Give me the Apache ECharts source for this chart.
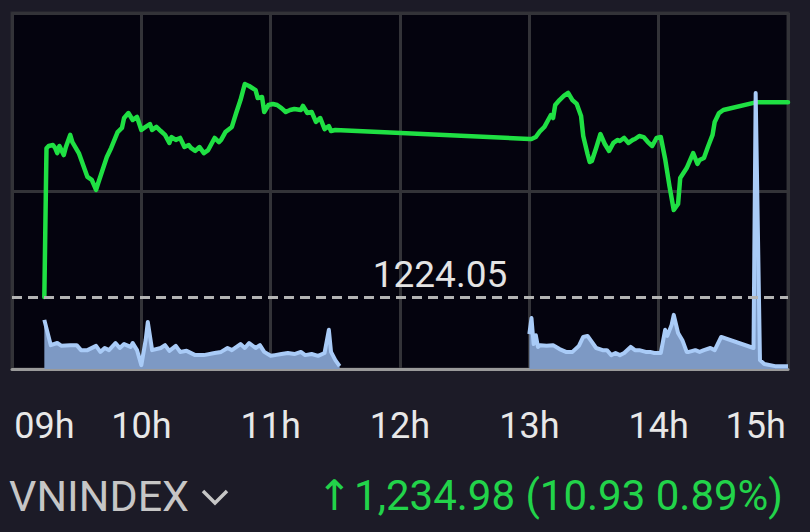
<!DOCTYPE html>
<html>
<head>
<meta charset="utf-8">
<script src="https://cdn.jsdelivr.net/npm/echarts@6/dist/echarts.min.js"></script>
<style>
html,body{margin:0;padding:0;background:#1c1b27;}
#c{width:810px;height:532px;}
</style>
</head>
<body>
<div id="c"></div>
<script>
// ---------- data ----------
var refPrice = 1224.05;
var tickTimes = ["09:15","10:00","11:00","12:00","13:00","14:00","14:45"];
var tickLabels = ["09h","10h","11h","12h","13h","14h","15h"];

var priceTimesAM = ["09:15","09:16","09:17","09:19","09:20","09:21","09:22","09:24","09:25","09:27","09:28","09:31","09:33","09:35","09:37","09:39","09:40","09:42","09:44","09:46","09:49","09:51","09:52","09:54","09:56","09:58","10:00","10:02","10:04","10:05","10:07","10:09","10:11","10:13","10:14","10:16","10:18","10:20","10:22","10:23","10:25","10:27","10:29","10:31","10:32","10:34","10:36","10:37","10:39","10:42","10:44","10:46","10:48","10:50","10:53","10:54","10:56","10:57","10:59","11:01","11:03","11:05","11:07","11:09","11:11","11:14","11:15","11:17","11:19","11:21","11:23","11:25","11:27","11:28","11:30"];
var priceValuesAM = [1224.05,1232.40,1232.53,1232.58,1232.42,1232.13,1232.53,1232.02,1232.47,1233.15,1232.75,1232.13,1231.46,1230.79,1230.62,1230.06,1230.45,1231.18,1231.91,1232.42,1233.31,1233.54,1234.10,1234.38,1233.99,1234.16,1233.43,1233.60,1233.76,1233.43,1233.60,1233.37,1233.15,1232.70,1233.03,1232.87,1232.98,1232.47,1232.58,1232.42,1232.25,1232.47,1232.13,1232.30,1232.53,1232.98,1232.75,1232.87,1233.31,1233.60,1234.38,1235.11,1236.01,1235.90,1235.67,1235.22,1235.28,1234.44,1234.83,1234.89,1234.83,1234.66,1234.44,1234.55,1234.61,1234.55,1234.78,1234.38,1234.44,1233.88,1234.10,1233.48,1233.65,1233.37,1233.43];

var priceTimesPM = ["13:00","13:01","13:03","13:04","13:05","13:07","13:10","13:11","13:12","13:14","13:16","13:18","13:20","13:22","13:24","13:25","13:27","13:28","13:29","13:31","13:33","13:35","13:37","13:39","13:41","13:42","13:44","13:46","13:48","13:49","13:51","13:53","13:55","13:57","13:59","14:01","14:03","14:05","14:07","14:09","14:10","14:13","14:15","14:16","14:18","14:19","14:21","14:23","14:25","14:26","14:28","14:30","14:45","15:00"];
var priceValuesPM = [1232.92,1232.92,1233.03,1233.20,1233.37,1233.60,1234.27,1234.10,1234.83,1235.11,1235.34,1235.51,1235.11,1234.89,1234.21,1233.09,1232.08,1231.63,1231.69,1232.42,1233.20,1232.64,1232.25,1232.70,1232.87,1232.81,1232.98,1232.70,1232.87,1232.92,1233.09,1233.03,1232.75,1232.53,1232.98,1233.03,1231.80,1230.28,1228.93,1229.27,1230.73,1231.29,1231.85,1232.13,1231.52,1231.74,1231.85,1232.53,1233.15,1233.88,1234.38,1234.55,1234.98,1234.98];

var volTimesAM = ["09:15","09:18","09:21","09:23","09:27","09:30","09:32","09:35","09:39","09:41","09:43","09:45","09:48","09:50","09:52","09:55","09:56","09:58","10:00","10:02","10:03","10:05","10:09","10:11","10:13","10:16","10:18","10:21","10:25","10:29","10:34","10:37","10:40","10:42","10:46","10:48","10:50","10:53","10:55","10:57","11:00","11:02","11:05","11:08","11:11","11:14","11:16","11:19","11:22","11:25","11:27","11:28","11:30","11:32"];
var volValuesAM = [13.8,6.7,7.3,6.5,6.7,6.7,5.3,5.3,6.5,4.8,5.9,5.3,7.3,5.9,7.0,6.2,7.3,5.3,1.1,8.1,13.2,5.3,5.9,6.7,5.1,6.5,4.8,5.1,3.9,3.9,4.5,4.8,5.9,5.3,7.0,5.9,7.3,5.9,6.7,4.8,3.7,3.9,4.2,4.5,4.2,4.8,3.9,4.2,3.7,4.5,11.0,4.8,2.5,0.8];

var volTimesPM = ["13:00","13:01","13:02","13:03","13:04","13:05","13:08","13:11","13:14","13:17","13:20","13:23","13:25","13:27","13:29","13:31","13:34","13:36","13:38","13:40","13:42","13:44","13:47","13:49","13:51","13:54","13:56","13:58","14:01","14:03","14:04","14:06","14:07","14:09","14:11","14:13","14:14","14:17","14:19","14:21","14:24","14:26","14:29","14:44","14:45","14:47","14:49","14:54","15:00"];
var volValuesPM = [9.8,14.3,7.0,9.5,6.2,6.7,6.5,6.7,5.6,4.8,4.8,6.5,9.0,9.3,7.6,5.9,5.3,5.3,3.9,4.5,3.9,4.5,6.2,5.3,5.3,4.8,4.8,4.5,4.5,11.0,9.3,12.4,15.2,10.1,8.1,4.8,4.8,5.3,4.8,5.3,5.9,5.3,9.0,5.9,77.5,2.5,1.4,0.8,0.8];

// ---------- helpers ----------
function toMin(t){var p=t.split(":");return (+p[0])*60+(+p[1]);}
function pairs(ts,vs){return ts.map(function(t,i){return [toMin(t),vs[i]];});}
var tickMins = tickTimes.map(toMin);

var priceData = pairs(priceTimesAM,priceValuesAM).concat(pairs(priceTimesPM,priceValuesPM));
var volData = pairs(volTimesAM,volValuesAM).concat([[toMin("12:15"),null]]).concat(pairs(volTimesPM,volValuesPM));

var chart = echarts.init(document.getElementById('c'), null, {renderer:'svg'});
chart.setOption({
  backgroundColor:'#1c1b27',
  animation:false,
  textStyle:{fontFamily:'Roboto'},
  title:[
    {text:'VNINDEX', left:4, top:469, padding:5,
     textStyle:{color:'#c6c6c6', fontSize:43, fontWeight:'normal', fontFamily:'Roboto'}},
    {text:'{a|\u2191}1,234.98 (10.93 0.89%)', right:22, top:469, padding:5,
     textStyle:{color:'#22d34a', fontSize:42, fontWeight:'normal', fontFamily:'Roboto',
       rich:{a:{color:'#22d34a', fontSize:42, fontFamily:'DejaVu Sans', padding:[0,2,0,0]}}}}
  ],
  graphic:[
    {type:'polyline', shape:{points:[[203,491],[215,503],[227,491]]},
     style:{stroke:'#c6c6c6', lineWidth:3.5, fill:null}}
  ],
  grid:{left:12, right:22, top:13, bottom:163, show:true, backgroundColor:'#04030e', borderColor:'#2f2f35', borderWidth:3},
  xAxis:{
    type:'value', min:540, max:900, interval:60,
    axisLine:{show:true, lineStyle:{color:'#9a9a9a', width:3}},
    axisTick:{show:false},
    splitLine:{show:true, lineStyle:{color:'#333338', width:3}},
    axisLabel:{
      customValues:tickMins,
      color:'#e8e8e8', fontSize:36, margin:39, fontFamily:'Roboto',
      formatter:function(v){var i=tickMins.indexOf(v);return i>=0?tickLabels[i]:'';}
    }
  },
  yAxis:[
    {type:'value', min:1220, max:1240, interval:10, axisLine:{show:false}, axisTick:{show:false}, axisLabel:{show:false},
     splitLine:{show:true, lineStyle:{color:'#333338', width:3}}},
    {type:'value', min:0, max:100, show:false, splitLine:{show:false}}
  ],
  series:[
    {type:'line', name:'VNINDEX', data:priceData, yAxisIndex:0, showSymbol:false, z:2,
     lineStyle:{color:'#1fe043', width:4.5, join:'round', cap:'round'},
     markLine:{silent:true, symbol:'none',
       lineStyle:{color:'#b4b4b4', width:3, type:[10,6]},
       label:{show:true, position:'middle', formatter:refPrice.toFixed(2), color:'#e4e4e4', fontSize:37, fontFamily:'Roboto', padding:[0,0,0,80], distance:4},
       data:[{yAxis:refPrice}]}
    },
    {type:'line', name:'Volume', data:volData, yAxisIndex:1, showSymbol:false, z:3,
     lineStyle:{color:'#a9cbf7', width:4, join:'round'},
     areaStyle:{color:'#7d99c4', opacity:1}
    }
  ]
});
</script>
</body>
</html>
